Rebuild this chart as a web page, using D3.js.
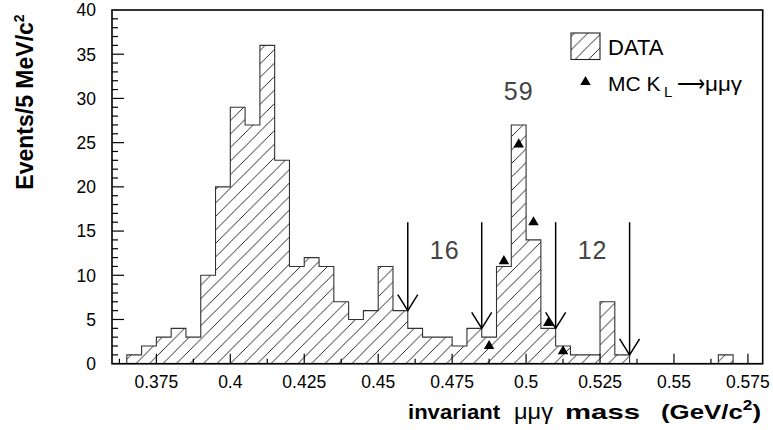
<!DOCTYPE html>
<html>
<head>
<meta charset="utf-8">
<script src="https://cdn.jsdelivr.net/npm/d3@7"></script>
<style>
  body { margin: 0; background: #fff; }
  svg { display: block; }
  text { font-family: "Liberation Sans", Arial, Helvetica, sans-serif; }
</style>
</head>
<body>
<svg id="chart" width="773" height="430"></svg>
<script>
// lower edges of the 5 MeV bins (GeV)
var binLo = [0.360, 0.365, 0.370, 0.375, 0.380, 0.385, 0.390, 0.395, 0.400, 0.405,
             0.410, 0.415, 0.420, 0.425, 0.430, 0.435, 0.440, 0.445, 0.450, 0.455,
             0.460, 0.465, 0.470, 0.475, 0.480, 0.485, 0.490, 0.495, 0.500, 0.505,
             0.510, 0.515, 0.520, 0.525, 0.530, 0.535, 0.540, 0.545, 0.550, 0.555,
             0.560, 0.565, 0.570, 0.575];
var binWidth = 0.005;
// data events per bin
var counts = [0, 1, 2, 3, 4, 3, 10, 20, 29, 27,
              36, 23, 11, 12, 11, 7, 5, 6, 11, 6,
              4, 3, 3, 2, 4, 3, 11, 27, 14, 4,
              2, 1, 1, 7, 1, 0, 0, 0, 0, 0,
              0, 1, 0, 0];

// MC K_L -> mu mu gamma points
var mcMass = [0.4875, 0.4925, 0.4975, 0.5025, 0.5075, 0.5125];
var mcEvents = [2.0, 11.6, 24.8, 16.0, 4.6, 1.4];

// cut arrows: position, top of arrow, tip of arrow
var cutMass = [0.460, 0.485, 0.510, 0.535];
var cutTop = [16, 16, 16, 16];
var cutTip = [6, 4, 4, 1];

// numbers of events in the windows
var winLabel = ["16", "59", "12"];
var winMass = [0.4725, 0.4975, 0.5225];
var winLevel = [11.8, 29.8, 11.8];

var xTickValues = [0.375, 0.4, 0.425, 0.45, 0.475, 0.5, 0.525, 0.55, 0.575];
var xTickLabels = ["0.375", "0.4", "0.425", "0.45", "0.475", "0.5", "0.525", "0.55", "0.575"];
var yTickValues = [0, 5, 10, 15, 20, 25, 30, 35, 40];

var width = 773, height = 430;
var margin = {top: 10, right: 10.3, bottom: 66.3, left: 112};

var svg = d3.select("#chart");

var x = d3.scaleLinear().domain([0.36, 0.58]).range([margin.left, width - margin.right]);
var y = d3.scaleLinear().domain([0, 40]).range([height - margin.bottom, margin.top]);

// hatch pattern
var defs = svg.append("defs");
var hs = 13.5;
defs.append("pattern")
  .attr("id", "hatch")
  .attr("patternUnits", "userSpaceOnUse")
  .attr("width", hs)
  .attr("height", hs)
  .append("path")
  .attr("d", "M0," + hs + " L" + hs + ",0 M" + (-hs / 2) + "," + (hs / 2) + " L" + (hs / 2) + "," + (-hs / 2) +
             " M" + (hs / 2) + "," + (hs * 1.5) + " L" + (hs * 1.5) + "," + (hs / 2))
  .attr("stroke", "#111")
  .attr("stroke-width", 0.9);

// histogram outline as a step path
var pts = [];
binLo.forEach(function(lo, i) {
  pts.push([x(lo), y(counts[i])]);
  pts.push([x(lo + binWidth), y(counts[i])]);
});
var d = "M" + x(binLo[0]) + "," + y(0);
pts.forEach(function(p) { d += " L" + p[0] + "," + p[1]; });
d += " L" + x(binLo[binLo.length - 1] + binWidth) + "," + y(0) + " Z";

svg.append("path")
  .attr("d", d)
  .attr("fill", "url(#hatch)")
  .attr("stroke", "#333")
  .attr("stroke-width", 1.1)
  .attr("stroke-linejoin", "miter");

// MC triangles
svg.append("g").selectAll("path")
  .data(mcMass)
  .enter()
  .append("path")
  .attr("d", d3.symbol().type(d3.symbolTriangle).size(48))
  .attr("transform", function(m, i) { return "translate(" + x(m) + "," + y(mcEvents[i]) + ")"; })
  .attr("fill", "#000");

// arrows
var arrows = svg.append("g").attr("stroke", "#000").attr("stroke-width", 1.5).attr("fill", "none");
cutMass.forEach(function(m, i) {
  var xx = x(m), yt = y(cutTip[i]);
  arrows.append("line")
    .attr("x1", xx).attr("x2", xx)
    .attr("y1", y(cutTop[i])).attr("y2", yt);
  arrows.append("path")
    .attr("d", "M" + (xx - 10) + "," + (yt - 16) + " L" + xx + "," + yt + " L" + (xx + 10) + "," + (yt - 16));
});

// window counts
svg.append("g").selectAll("text")
  .data(winLabel)
  .enter()
  .append("text")
  .attr("x", function(t, i) { return x(winMass[i]); })
  .attr("y", function(t, i) { return y(winLevel[i]); })
  .attr("text-anchor", "middle")
  .attr("font-size", 25)
  .attr("letter-spacing", 1)
  .attr("fill", "#444")
  .text(function(t) { return t; });

// frame
svg.append("rect")
  .attr("x", margin.left)
  .attr("y", margin.top)
  .attr("width", width - margin.right - margin.left)
  .attr("height", height - margin.bottom - margin.top)
  .attr("fill", "none")
  .attr("stroke", "#000")
  .attr("stroke-width", 1.6);

// x ticks (inside, every 12.5 MeV)
var xMinor = d3.range(0, 18).map(function(k) { return 0.3625 + k * 0.0125; });
svg.append("g").selectAll("line")
  .data(xMinor)
  .enter()
  .append("line")
  .attr("x1", function(v) { return x(v); })
  .attr("x2", function(v) { return x(v); })
  .attr("y1", y(0))
  .attr("y2", function(v, k) { return y(0) - (k % 2 === 1 ? 10 : 5); })
  .attr("stroke", "#000")
  .attr("stroke-width", 1.2);

svg.append("g").selectAll("text")
  .data(xTickValues)
  .enter()
  .append("text")
  .attr("x", function(v) { return x(v); })
  .attr("y", 388)
  .attr("text-anchor", "middle")
  .attr("font-size", 17.5)
  .text(function(v, i) { return xTickLabels[i]; });

// y ticks (inside, every 1 event)
var yMinor = d3.range(1, 40);
svg.append("g").selectAll("line")
  .data(yMinor)
  .enter()
  .append("line")
  .attr("x1", x(0.36))
  .attr("x2", function(v) { return x(0.36) + (v % 5 === 0 ? 12 : 6); })
  .attr("y1", function(v) { return y(v); })
  .attr("y2", function(v) { return y(v); })
  .attr("stroke", "#000")
  .attr("stroke-width", 1.2);

svg.append("g").selectAll("text")
  .data(yTickValues)
  .enter()
  .append("text")
  .attr("x", 96)
  .attr("y", function(v) { return y(v); })
  .attr("dy", "0.36em")
  .attr("text-anchor", "end")
  .attr("font-size", 17.5)
  .text(function(v) { return v; });

// axis titles
var yt = svg.append("text")
  .attr("transform", "translate(33,102) rotate(-90)")
  .attr("text-anchor", "middle")
  .attr("font-size", 23)
  .attr("font-weight", "bold");
yt.append("tspan").text("Events/5 MeV/c");
yt.append("tspan").attr("font-size", 14).attr("dy", -9).text("2");

var xt = svg.append("g").attr("font-size", 21).attr("font-weight", "bold");
xt.append("text").attr("x", 408).attr("y", 419)
  .attr("textLength", 92).attr("lengthAdjust", "spacingAndGlyphs").text("invariant");
xt.append("text").attr("x", 514).attr("y", 419).attr("font-weight", "normal").attr("font-size", 22)
  .attr("font-family", "'DejaVu Serif', serif")
  .attr("textLength", 39).attr("lengthAdjust", "spacingAndGlyphs").text("μμγ");
xt.append("text").attr("x", 565).attr("y", 419)
  .attr("textLength", 75).attr("lengthAdjust", "spacingAndGlyphs").text("mass");
var unit = xt.append("text").attr("x", 661).attr("y", 419)
  .attr("textLength", 100).attr("lengthAdjust", "spacingAndGlyphs");
unit.append("tspan").text("(GeV/c");
unit.append("tspan").attr("font-size", 14).attr("dy", -9).text("2");
unit.append("tspan").attr("dy", 9).text(")");

// legend
svg.append("rect")
  .attr("x", 571).attr("y", 33)
  .attr("width", 29).attr("height", 26.5)
  .attr("fill", "url(#hatch)")
  .attr("stroke", "#222")
  .attr("stroke-width", 1.1);
svg.append("text").attr("x", 608).attr("y", 55).attr("font-size", 22).text("DATA");

svg.append("path")
  .attr("d", d3.symbol().type(d3.symbolTriangle).size(48))
  .attr("transform", "translate(585.5,82)")
  .attr("fill", "#000");
var lg = svg.append("g").attr("font-size", 21);
lg.append("text").attr("x", 608).attr("y", 91).text("MC K");
lg.append("text").attr("x", 664).attr("y", 97).attr("font-size", 15).text("L");
lg.append("text").attr("x", 677).attr("y", 91).attr("font-family", "'DejaVu Sans', sans-serif")
  .attr("textLength", 28).attr("lengthAdjust", "spacingAndGlyphs").text("⟶");
lg.append("text").attr("x", 705).attr("y", 91).attr("font-family", "'DejaVu Serif', serif")
  .attr("textLength", 37).attr("lengthAdjust", "spacingAndGlyphs").text("μμγ");
</script>
</body>
</html>
